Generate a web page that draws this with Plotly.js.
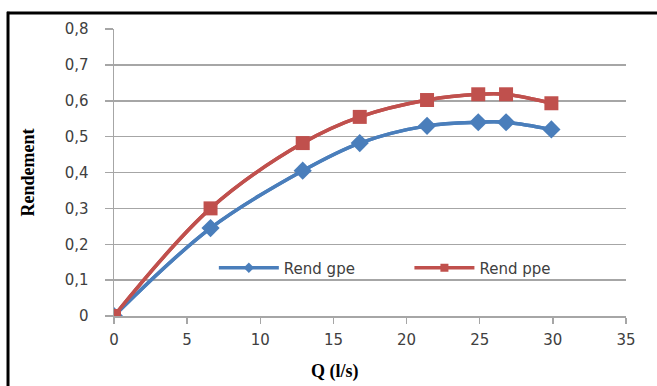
<!DOCTYPE html>
<html>
<head>
<meta charset="utf-8">
<script src="https://cdn.plot.ly/plotly-3.0.1.min.js"></script>
<style>
html,body{margin:0;padding:0;background:#fff;}
#chart{width:657px;height:386px;}
</style>
</head>
<body>
<div id="chart"></div>
<script>
const Q = [0, 6.6, 12.9, 16.8, 21.4, 24.9, 26.8, 29.9];
const rendGpe = [0, 0.245, 0.405, 0.482, 0.530, 0.540, 0.540, 0.520];
const rendPpe = [0, 0.300, 0.482, 0.555, 0.602, 0.618, 0.618, 0.593];
const yTickVals = [0, 0.1, 0.2, 0.3, 0.4, 0.5, 0.6, 0.7, 0.8];
const yTickText = ['0', '0,1', '0,2', '0,3', '0,4', '0,5', '0,6', '0,7', '0,8'];
const xTickVals = [0, 5, 10, 15, 20, 25, 30, 35];
const seriesNames = ['Rend gpe', 'Rend ppe'];

const gridCol = '#a6a6a6';
const blue = '#4a7ebb', red = '#c0504d';
const tickFont = {family: 'DejaVu Sans, sans-serif', size: 15, color: '#404040'};
const legFont = {family: 'DejaVu Sans, sans-serif', size: 15, color: '#404040'};

const traces = [
  // legend entries (small markers, fully covered by the main traces below)
  {x: Q, y: rendGpe, name: seriesNames[0], type: 'scatter', mode: 'lines+markers', legend: 'legend',
   line: {color: blue, width: 3.5, shape: 'spline'}, marker: {symbol: 'diamond', size: 8, color: blue}},
  {x: Q, y: rendPpe, name: seriesNames[1], type: 'scatter', mode: 'lines+markers', legend: 'legend2',
   line: {color: red, width: 3.5, shape: 'spline'}, marker: {symbol: 'square', size: 8, color: red}},
  // main series
  {x: Q, y: rendGpe, name: seriesNames[0], type: 'scatter', mode: 'lines+markers', showlegend: false,
   line: {color: blue, width: 3.5, shape: 'spline'}, marker: {symbol: 'diamond', size: 14, color: blue}},
  {x: Q, y: rendPpe, name: seriesNames[1], type: 'scatter', mode: 'lines+markers', showlegend: false,
   line: {color: red, width: 3.5, shape: 'spline'}, marker: {symbol: 'square', size: 14, color: red}}
];

const legBase = {orientation: 'h', xanchor: 'left', yanchor: 'middle', y: 0.167,
                 bgcolor: 'rgba(0,0,0,0)', font: legFont, borderwidth: 0, itemwidth: 60};

const layout = {
  width: 657, height: 386,
  margin: {l: 114, r: 31, t: 29, b: 70, pad: 0},
  paper_bgcolor: '#ffffff', plot_bgcolor: '#ffffff',
  showlegend: true,
  legend: Object.assign({}, legBase, {x: 0.195}),
  legend2: Object.assign({}, legBase, {x: 0.577}),
  xaxis: {range: [0, 35], tickvals: xTickVals, showgrid: false, zeroline: false,
          showline: true, linecolor: gridCol, linewidth: 1.5,
          ticks: 'outside', ticklen: 6, tickcolor: gridCol, tickwidth: 1.5,
          tickfont: tickFont, ticklabelstandoff: 3, fixedrange: true},
  yaxis: {range: [0, 0.8], tickvals: yTickVals, ticktext: yTickText,
          showgrid: true, gridcolor: gridCol, gridwidth: 1.5, zeroline: false,
          showline: true, linecolor: gridCol, linewidth: 1.5,
          ticks: 'outside', ticklen: 8, tickcolor: gridCol, tickwidth: 1.5,
          tickfont: tickFont, ticklabelstandoff: 13, fixedrange: true},
  annotations: [
    {text: '<b>Rendement</b>', xref: 'paper', yref: 'paper', x: -0.168, y: 0.5,
     xanchor: 'center', yanchor: 'middle', textangle: -90, showarrow: false,
     font: {family: 'Liberation Serif, serif', size: 18, color: '#000'}},
    {text: '<b>Q (l/s)</b>', xref: 'paper', yref: 'paper', x: 0.432, y: -0.195,
     xanchor: 'center', yanchor: 'middle', showarrow: false,
     font: {family: 'Liberation Serif, serif', size: 18, color: '#000'}}
  ],
  shapes: [
    {type: 'line', xref: 'paper', yref: 'paper', x0: -0.209, x1: 1.1, y0: 1.056, y1: 1.056,
     line: {color: '#000', width: 3}},
    {type: 'line', xref: 'paper', yref: 'paper', x0: -0.207, x1: -0.207, y0: 1.06, y1: -0.3,
     line: {color: '#000', width: 3}}
  ]
};

Plotly.newPlot('chart', traces, layout, {displayModeBar: false, staticPlot: true});
</script>
</body>
</html>
